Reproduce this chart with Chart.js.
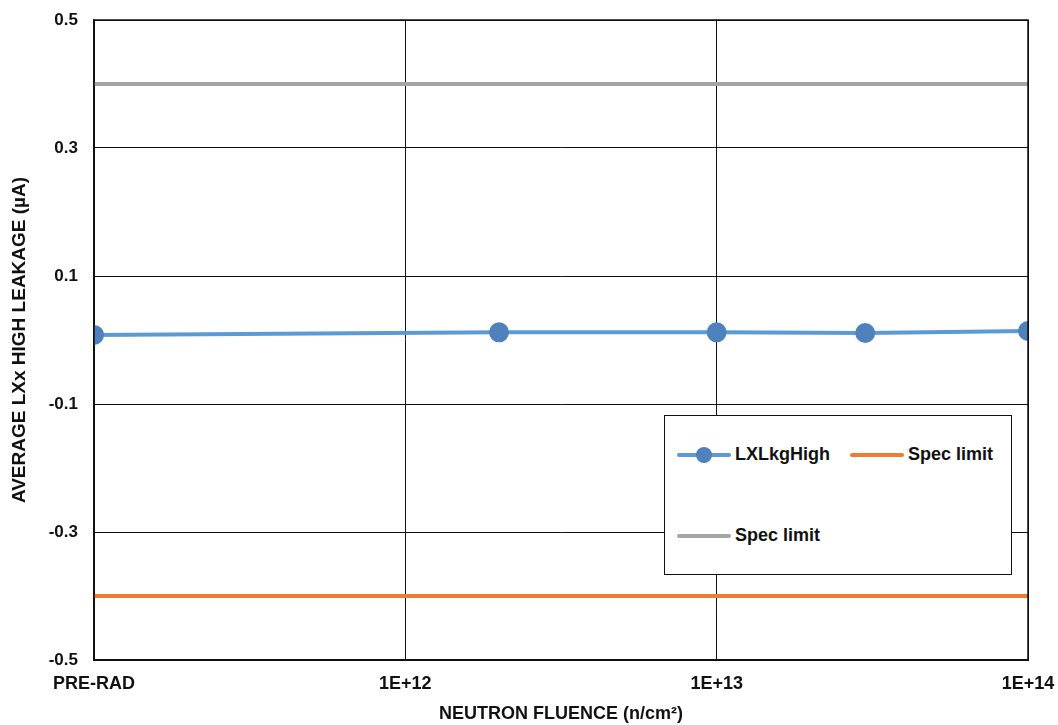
<!DOCTYPE html>
<html>
<head>
<meta charset="utf-8">
<script src="https://cdn.jsdelivr.net/npm/chart.js@4/dist/chart.umd.min.js"></script>
<style>
  html,body{margin:0;padding:0;background:#fff;}
  #wrap{position:relative;width:1058px;height:725px;}
  #legend{position:absolute;left:664px;top:415px;width:346px;height:158px;border:1.5px solid #111;background:#fff;
    font-family:"Liberation Sans",Arial,sans-serif;font-weight:bold;font-size:18px;color:#111;}
  .item{position:absolute;display:flex;align-items:center;}
  .sym{position:relative;width:54px;height:18px;margin-right:4px;}
  .sym .ln{position:absolute;left:0;right:0;top:7px;height:4px;border-radius:2px;}
  .sym .dot{position:absolute;left:19px;top:1px;width:16px;height:16px;border-radius:50%;background:#4f81bd;}
</style>
</head>
<body>
<div id="wrap">
  <canvas id="chart" width="1058" height="725"></canvas>
  <div id="legend"></div>
</div>
<script>
const COLORS = { leak:'#5b9bd5', leakPt:'#4f81bd', specLow:'#ed7d31', specHigh:'#a5a5a5' };

// fluence (n/cm2); PRE-RAD drawn at 1E+11
const fluence = [1e11, 2e12, 1e13, 3e13, 1e14];
const leakage = [0.008, 0.012, 0.012, 0.011, 0.014];
const specX = [1e11, 1e14];
const specLow = [-0.4, -0.4];
const specHigh = [0.4, 0.4];
const xTicks = [1e11, 1e12, 1e13, 1e14];
const xTickLabels = ['PRE-RAD', '1E+12', '1E+13', '1E+14'];
const yTicks = [0.5, 0.3, 0.1, -0.1, -0.3, -0.5];

const pts = (xs, ys) => xs.map((x,i)=>({x, y:ys[i]}));
const FONT = '"Liberation Sans", Arial, sans-serif';

new Chart(document.getElementById('chart'), {
  type:'line',
  data:{ datasets:[
    { label:'LXLkgHigh', data:pts(fluence, leakage), borderColor:COLORS.leak, borderWidth:4,
      pointRadius:8, pointBackgroundColor:COLORS.leakPt, pointBorderColor:COLORS.leakPt, tension:0, order:0 },
    { label:'Spec limit', data:pts(specX, specLow), borderColor:COLORS.specLow, borderWidth:4, pointRadius:0, order:1 },
    { label:'Spec limit', data:pts(specX, specHigh), borderColor:COLORS.specHigh, borderWidth:4, pointRadius:0, order:2 }
  ]},
  options:{
    responsive:false, animation:false,
    layout:{ padding:{ top:20, right:30, left:0, bottom:0 } },
    plugins:{ legend:{display:false}, tooltip:{enabled:false} },
    scales:{
      x:{
        type:'logarithmic', min:1e11, max:1e14,
        afterBuildTicks: s => { s.ticks = xTicks.map(v=>({value:v})); },
        afterFit: s => { s.height = 65; s.paddingLeft = 0; s.paddingRight = 0; },
        ticks:{ autoSkip:false, maxRotation:0, padding:13, color:'#111',
          font:{ family:FONT, size:18, weight:'bold' },
          callback:(v,i)=>xTickLabels[i] },
        grid:{ color:'#111', lineWidth:1, drawTicks:false },
        border:{ color:'#111', width:2 },
        title:{ display:true, text:'NEUTRON FLUENCE (n/cm²)', color:'#111', padding:{top:7,bottom:0},
          font:{ family:FONT, size:18, weight:'bold' } }
      },
      y:{
        min:-0.5, max:0.5,
        afterBuildTicks: s => { s.ticks = yTicks.map(v=>({value:v})); },
        afterFit: s => { s.width = 94; s.paddingTop = 0; s.paddingBottom = 0; },
        ticks:{ padding:16, color:'#111', font:{ family:FONT, size:17, weight:'bold' },
          callback:v=>String(Math.round(v*10)/10) },
        grid:{ color:'#111', lineWidth:1, drawTicks:false },
        border:{ color:'#111', width:1.5 },
        title:{ display:true, text:'AVERAGE LXx HIGH LEAKAGE (µA)', color:'#111', padding:{top:8,bottom:4},
          font:{ family:FONT, size:19, weight:'bold' } }
      }
    }
  },
  plugins:[{
    id:'frame',
    afterDraw(c){
      const a=c.chartArea, ctx=c.ctx;
      ctx.save(); ctx.strokeStyle='#111'; ctx.lineWidth=1.5;
      ctx.strokeRect(a.left, a.top, a.right-a.left, a.bottom-a.top);
      ctx.restore();
    }
  }]
});

// legend box
const legendItems = [
  { text:'LXLkgHigh', color:COLORS.leak, dot:true, left:12, top:28 },
  { text:'Spec limit', color:COLORS.specLow, dot:false, left:185, top:28 },
  { text:'Spec limit', color:COLORS.specHigh, dot:false, left:12, top:109 }
];
document.getElementById('legend').innerHTML = legendItems.map(it =>
  `<div class="item" style="left:${it.left}px;top:${it.top}px">
     <div class="sym"><div class="ln" style="background:${it.color}"></div>${it.dot?'<div class="dot"></div>':''}</div>
     <span>${it.text}</span></div>`).join('');
</script>
</body>
</html>
